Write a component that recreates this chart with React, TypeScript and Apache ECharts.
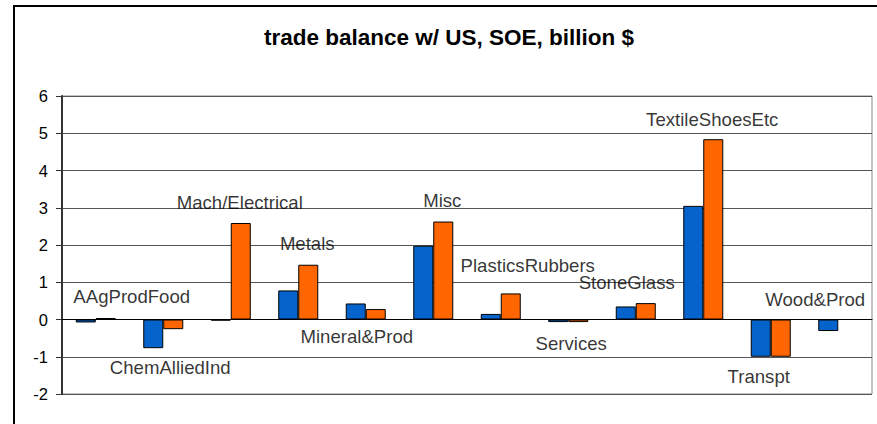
import React, { useEffect, useRef } from "react";
import * as echarts from "echarts";

const categories = [
  "AAgProdFood",
  "ChemAlliedInd",
  "Mach/Electrical",
  "Metals",
  "Mineral&Prod",
  "Misc",
  "PlasticsRubbers",
  "Services",
  "StoneGlass",
  "TextileShoesEtc",
  "Transpt",
  "Wood&Prod",
];

const seriesBlue = [-0.08, -0.77, -0.03, 0.78, 0.43, 1.98, 0.15, -0.07, 0.35, 3.05, -1.0, -0.31];
const seriesOrange = [0.04, -0.26, 2.59, 1.47, 0.28, 2.63, 0.7, -0.07, 0.44, 4.84, -1.0, null];

// category-name labels: vertical placement (axis units) and horizontal shift
const labelValue = [0.61, -1.29, 3.15, 2.05, -0.45, 3.19, 1.46, -0.64, 0.98, 5.38, -1.52, 0.55];
const labelShift = [36, 7, 9, 9, -9, 9, 27, 3, -9, 9, -12, -23];

const yTicks = { min: -2, max: 6, interval: 1 };
const titleText = "trade balance w/ US, SOE, billion $";

export default function App() {
  const ref = useRef<HTMLDivElement>(null);

  useEffect(() => {
    if (!ref.current) return;
    const chart = echarts.init(ref.current, null, { renderer: "svg" });
    const font = "'Liberation Sans', Arial, sans-serif";
    chart.setOption({
      animation: false,
      backgroundColor: "#ffffff",
      textStyle: { fontFamily: font },
      graphic: [
        {
          type: "rect",
          z: -10,
          shape: { x: 14, y: 6, width: 900, height: 440 },
          style: { fill: "none", stroke: "#000", lineWidth: 2 },
          silent: true,
        },
        {
          type: "text",
          x: 449,
          y: 37,
          style: {
            text: titleText,
            fontFamily: font,
            fontSize: 22.5,
            fontWeight: "bold",
            fill: "#000",
            textAlign: "center",
            textVerticalAlign: "middle",
          },
          silent: true,
        },
      ],
      grid: {
        left: 62,
        right: 5,
        top: 96,
        bottom: 30,
        show: true,
        borderColor: "#888",
        borderWidth: 1,
        backgroundColor: "transparent",
      },
      xAxis: {
        type: "category",
        data: categories,
        axisLine: { show: true, onZero: true, lineStyle: { color: "#000", width: 1 } },
        axisTick: { show: false },
        axisLabel: { show: false },
        splitLine: { show: false },
      },
      yAxis: {
        type: "value",
        min: yTicks.min,
        max: yTicks.max,
        interval: yTicks.interval,
        axisLine: { show: true, lineStyle: { color: "#333", width: 2 } },
        axisTick: { show: true, length: 6, inside: false, lineStyle: { color: "#333" } },
        axisLabel: { color: "#000", fontSize: 16.5, fontFamily: font, margin: 14 },
        splitLine: { show: true, lineStyle: { color: "#555", width: 1 } },
      },
      series: [
        {
          type: "bar",
          data: seriesBlue,
          barWidth: 20,
          barGap: "0%",
          itemStyle: { color: "#0563CC", borderColor: "#000", borderWidth: 1 },
          silent: true,
        },
        {
          type: "bar",
          data: seriesOrange,
          barWidth: 20,
          barGap: "0%",
          itemStyle: { color: "#FF6600", borderColor: "#000", borderWidth: 1 },
          silent: true,
        },
        {
          type: "scatter",
          symbolSize: 0,
          itemStyle: { color: "transparent" },
          silent: true,
          z: 5,
          data: categories.map((c, i) => ({
            value: [i, labelValue[i]],
            label: {
              show: true,
              position: "inside",
              offset: [labelShift[i], 0],
              formatter: c,
              fontSize: 18.6,
              fontFamily: font,
              color: "#000",
              align: "center",
              verticalAlign: "middle",
            },
          })),
        },
      ],
    });
    return () => chart.dispose();
  }, []);

  return (
    <div
      ref={ref}
      style={{ position: "absolute", left: 0, top: 0, width: 877, height: 424 }}
    />
  );
}
